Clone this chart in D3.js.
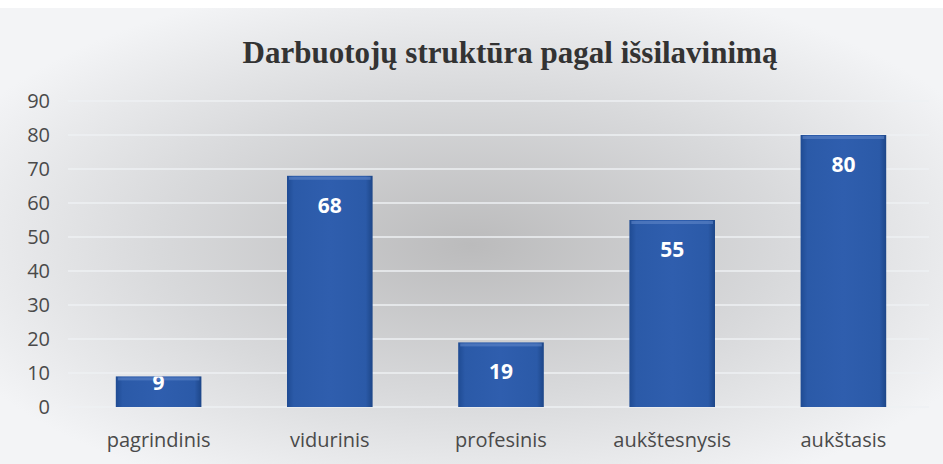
<html>
  <meta charset="utf-8" />
  <script src="https://d3js.org/d3.v7.min.js"></script>
  <style>
    body { margin: 0; background: #ffffff; }
  </style>
  <body>
    <svg width="943" height="464" id="chart"></svg>
    <script>
      const categories = ["pagrindinis", "vidurinis", "profesinis", "aukštesnysis", "aukštasis"];
      const values = [9, 68, 19, 55, 80];
      const yTicks = [0, 10, 20, 30, 40, 50, 60, 70, 80, 90];
      const title = "Darbuotojų struktūra pagal išsilavinimą";

      const svg = d3.select("#chart");
      const defs = svg.append("defs");

      // background: grey in the middle, lighter toward the edges
      const bg = defs.append("radialGradient")
        .attr("id", "bg")
        .attr("cx", "0.5").attr("cy", "0.52").attr("r", "0.6");
      bg.append("stop").attr("offset", "0%").attr("stop-color", "#bbbbbc");
      bg.append("stop").attr("offset", "55%").attr("stop-color", "#d8d9db");
      bg.append("stop").attr("offset", "100%").attr("stop-color", "#f3f4f6");

      const barGrad = defs.append("linearGradient")
        .attr("id", "bar").attr("x1", "0").attr("x2", "1").attr("y1", "0").attr("y2", "0");
      barGrad.append("stop").attr("offset", "0%").attr("stop-color", "#1f4b93");
      barGrad.append("stop").attr("offset", "8%").attr("stop-color", "#2b5aa8");
      barGrad.append("stop").attr("offset", "50%").attr("stop-color", "#2f5eae");
      barGrad.append("stop").attr("offset", "92%").attr("stop-color", "#2b5aa8");
      barGrad.append("stop").attr("offset", "100%").attr("stop-color", "#1d4688");

      svg.append("rect")
        .attr("x", 0).attr("y", 8)
        .attr("width", 943).attr("height", 456)
        .attr("fill", "url(#bg)");

      const plotLeft = 73, plotRight = 929, plotTop = 101, plotBottom = 407;

      const x = d3.scaleBand()
        .domain(categories)
        .range([plotLeft, plotRight])
        .paddingInner(0.5)
        .paddingOuter(0.25);

      const y = d3.scaleLinear().domain([0, 90]).range([plotBottom, plotTop]);

      // gridlines
      svg.append("g")
        .selectAll("line")
        .data(yTicks)
        .join("line")
        .attr("x1", 68).attr("x2", plotRight)
        .attr("y1", (d) => y(d)).attr("y2", (d) => y(d))
        .attr("stroke", "#eef0f3")
        .attr("stroke-width", 1.5);

      // y axis labels
      svg.append("g")
        .selectAll("text")
        .data(yTicks)
        .join("text")
        .attr("x", 50)
        .attr("y", (d) => y(d))
        .attr("dy", "0.36em")
        .attr("text-anchor", "end")
        .attr("font-family", "Open Sans, Liberation Sans, sans-serif")
        .attr("font-size", 20)
        .attr("fill", "#4a4a4a")
        .text((d) => d);

      // x axis labels
      svg.append("g")
        .selectAll("text")
        .data(categories)
        .join("text")
        .attr("x", (d) => x(d) + x.bandwidth() / 2)
        .attr("y", 447)
        .attr("text-anchor", "middle")
        .attr("font-family", "Open Sans, Liberation Sans, sans-serif")
        .attr("font-size", 20)
        .attr("fill", "#4a4a4a")
        .text((d) => d);

      // bars
      const bars = svg.append("g")
        .selectAll("g")
        .data(values)
        .join("g");

      bars.each(function (d, i) {
        defs.append("clipPath")
          .attr("id", "clip" + i)
          .append("rect")
          .attr("x", x(categories[i]))
          .attr("y", y(d))
          .attr("width", x.bandwidth())
          .attr("height", plotBottom - y(d));
      });

      bars.append("rect")
        .attr("x", (d, i) => x(categories[i]))
        .attr("y", (d) => y(d))
        .attr("width", x.bandwidth())
        .attr("height", (d) => plotBottom - y(d))
        .attr("fill", "url(#bar)");

      // bevel highlight on top
      bars.append("rect")
        .attr("x", (d, i) => x(categories[i]) + 2)
        .attr("y", (d) => y(d) + 1)
        .attr("width", x.bandwidth() - 4)
        .attr("height", 3)
        .attr("fill", "#5f86c8")
        .attr("opacity", 0.6);

      bars.append("text")
        .attr("clip-path", (d, i) => `url(#clip${i})`)
        .attr("x", (d, i) => x(categories[i]) + x.bandwidth() / 2)
        .attr("y", (d) => (d < 15 ? y(d) + 14 : y(d) + 37))
        .attr("text-anchor", "middle")
        .attr("font-family", "Open Sans, Liberation Sans, sans-serif")
        .attr("font-weight", "bold")
        .attr("font-size", 21)
        .attr("fill", "#ffffff")
        .text((d) => d);

      svg.append("text")
        .attr("x", 510)
        .attr("y", 63)
        .attr("text-anchor", "middle")
        .attr("font-family", "Liberation Serif, serif")
        .attr("font-weight", "bold")
        .attr("font-size", 31)
        .attr("fill", "#333333")
        .text(title);
    </script>
  </body>
</html>
